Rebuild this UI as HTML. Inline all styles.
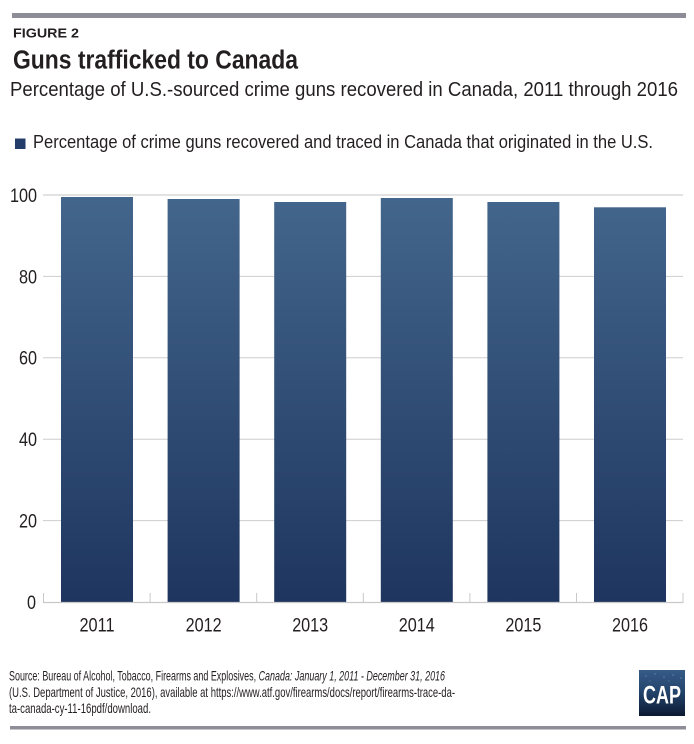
<!DOCTYPE html>
<html>
<head>
<meta charset="utf-8">
<style>
  html,body{margin:0;padding:0;background:#fff;}
  svg{display:block;}
  text{font-family:"Liberation Sans",Arial,sans-serif;fill:#231f20;}
</style>
</head>
<body>
<svg width="694" height="744" viewBox="0 0 694 744" xmlns="http://www.w3.org/2000/svg">
  <defs>
    <linearGradient id="barg" gradientUnits="userSpaceOnUse" x1="0" y1="195" x2="0" y2="602">
      <stop offset="0" stop-color="#43668c"/>
      <stop offset="1" stop-color="#1e355f"/>
    </linearGradient>
    <linearGradient id="capg" x1="0" y1="0" x2="0" y2="1">
      <stop offset="0" stop-color="#355b86"/>
      <stop offset="0.45" stop-color="#24456d"/>
      <stop offset="1" stop-color="#0c1a33"/>
    </linearGradient>
  </defs>

  <!-- top bar -->
  <rect x="12" y="13" width="674" height="5" fill="#8c8d96"/>

  <text x="13" y="37.5" font-size="12.5" font-weight="bold" textLength="66" lengthAdjust="spacingAndGlyphs">FIGURE 2</text>
  <text x="13" y="68.5" font-size="25.5" font-weight="bold" textLength="285" lengthAdjust="spacingAndGlyphs">Guns trafficked to Canada</text>
  <text x="10" y="96" font-size="20.5" textLength="668" lengthAdjust="spacingAndGlyphs">Percentage of U.S.-sourced crime guns recovered in Canada, 2011 through 2016</text>

  <!-- legend -->
  <rect x="15" y="138.5" width="10.5" height="10.5" fill="#243c69"/>
  <text x="33" y="148" font-size="18" textLength="620" lengthAdjust="spacingAndGlyphs">Percentage of crime guns recovered and traced in Canada that originated in the U.S.</text>

  <!-- gridlines -->
  <line x1="43" y1="195" x2="683" y2="195" stroke="#e2e2e2" stroke-width="2"/>
  <line x1="43" y1="276.4" x2="683" y2="276.4" stroke="#cdcdcd" stroke-width="1"/>
  <line x1="43" y1="357.8" x2="683" y2="357.8" stroke="#cdcdcd" stroke-width="1"/>
  <line x1="43" y1="439.2" x2="683" y2="439.2" stroke="#cdcdcd" stroke-width="1"/>
  <line x1="43" y1="520.6" x2="683" y2="520.6" stroke="#cdcdcd" stroke-width="1"/>

  <!-- y labels -->
  <g font-size="19" text-anchor="end">
    <text x="37" y="202" textLength="27" lengthAdjust="spacingAndGlyphs">100</text>
    <text x="37" y="283.3" textLength="18" lengthAdjust="spacingAndGlyphs">80</text>
    <text x="37" y="364.7" textLength="18" lengthAdjust="spacingAndGlyphs">60</text>
    <text x="37" y="446.1" textLength="18" lengthAdjust="spacingAndGlyphs">40</text>
    <text x="37" y="527.5" textLength="18" lengthAdjust="spacingAndGlyphs">20</text>
    <text x="36" y="609" textLength="9" lengthAdjust="spacingAndGlyphs">0</text>
  </g>

  <!-- bars -->
  <rect x="61" y="197" width="72" height="405" fill="url(#barg)"/>
  <rect x="167.6" y="199" width="72" height="403" fill="url(#barg)"/>
  <rect x="274.2" y="202" width="72" height="400" fill="url(#barg)"/>
  <rect x="380.8" y="198" width="72" height="404" fill="url(#barg)"/>
  <rect x="487.4" y="202" width="72" height="400" fill="url(#barg)"/>
  <rect x="594" y="207.3" width="72" height="394.7" fill="url(#barg)"/>

  <!-- axis -->
  <line x1="43" y1="602.5" x2="683.5" y2="602.5" stroke="#c8c8c8" stroke-width="1.2"/>
  <g stroke="#c8c8c8" stroke-width="1">
    <line x1="43.5" y1="593" x2="43.5" y2="603"/>
    <line x1="150.1" y1="593" x2="150.1" y2="603"/>
    <line x1="256.7" y1="593" x2="256.7" y2="603"/>
    <line x1="363.3" y1="593" x2="363.3" y2="603"/>
    <line x1="469.9" y1="593" x2="469.9" y2="603"/>
    <line x1="576.5" y1="593" x2="576.5" y2="603"/>
    <line x1="683" y1="593" x2="683" y2="603"/>
  </g>

  <!-- x labels -->
  <g font-size="19" text-anchor="middle">
    <text x="97" y="631.5" textLength="35" lengthAdjust="spacingAndGlyphs">2011</text>
    <text x="203.6" y="631.5" textLength="36" lengthAdjust="spacingAndGlyphs">2012</text>
    <text x="310.2" y="631.5" textLength="36" lengthAdjust="spacingAndGlyphs">2013</text>
    <text x="416.8" y="631.5" textLength="36" lengthAdjust="spacingAndGlyphs">2014</text>
    <text x="523.4" y="631.5" textLength="36" lengthAdjust="spacingAndGlyphs">2015</text>
    <text x="630" y="631.5" textLength="36" lengthAdjust="spacingAndGlyphs">2016</text>
  </g>

  <!-- source -->
  <g font-size="14">
    <text x="9" y="680.5" textLength="436" lengthAdjust="spacingAndGlyphs">Source: Bureau of Alcohol, Tobacco, Firearms and Explosives, <tspan font-style="italic">Canada: January 1, 2011 - December 31, 2016</tspan></text>
    <text x="9" y="697" textLength="446" lengthAdjust="spacingAndGlyphs">(U.S. Department of Justice, 2016), available at https://www.atf.gov/firearms/docs/report/firearms-trace-da-</text>
    <text x="9" y="713" textLength="142" lengthAdjust="spacingAndGlyphs">ta-canada-cy-11-16pdf/download.</text>
  </g>

  <!-- CAP logo -->
  <rect x="639" y="670" width="46" height="46" fill="url(#capg)"/>
  <g fill="#5a7ea6" opacity="0.6">
    <circle cx="646" cy="676" r="1"/>
    <circle cx="655" cy="674" r="1"/>
    <circle cx="664" cy="677" r="1"/>
    <circle cx="673" cy="675" r="1"/>
    <circle cx="681" cy="678" r="1"/>
    <circle cx="650" cy="681" r="0.8"/>
    <circle cx="669" cy="681" r="0.8"/>
  </g>
  <text x="662" y="703.5" font-size="25" font-weight="bold" text-anchor="middle" textLength="38" lengthAdjust="spacingAndGlyphs" style="fill:#ffffff">CAP</text>

  <!-- bottom bar -->
  <rect x="10" y="726" width="676" height="3.5" fill="#8c8d96"/>
</svg>
</body>
</html>
